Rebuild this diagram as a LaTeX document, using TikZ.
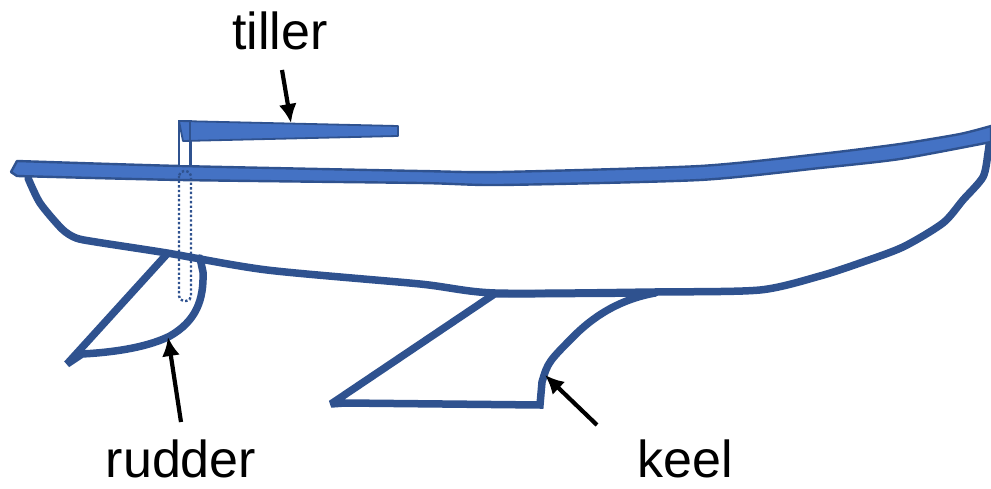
\documentclass[tikz,border=0pt]{standalone}
\usepackage{fontspec}
\setmainfont{Liberation Sans}
\usepackage{tikz}
\usetikzlibrary{arrows.meta,positioning}
\definecolor{hullblue}{RGB}{47, 82, 143}
\definecolor{deckblue}{RGB}{68, 114, 196}
\tikzstyle{hull}  = [draw=hullblue, line width=7.5pt, line join=round, line cap=round]
\tikzstyle{deck}  = [draw=hullblue, fill=deckblue, line width=2.4pt, line join=round]
\tikzstyle{post}  = [draw=hullblue, fill=white, line width=1.8pt]
\tikzstyle{stock} = [draw=hullblue, line width=2.4pt, dash pattern=on 2.4pt off 2.2pt, rounded corners=5pt]
\tikzstyle{label} = [inner sep=0pt, anchor=base, font=\fontsize{52}{60}\selectfont]
\tikzstyle{tedge} = [draw, line width=4.2pt, >={Latex[length=19pt,width=18pt]}, ->]

\begin{document}
\begin{tikzpicture}[x=1pt, y=-1pt]
\useasboundingbox (0,0) rectangle (991,489);

% hull and appendages =============================
\draw[hull] plot[smooth, tension=0.45] coordinates {(28,178) (40,203) (62,229) (76,238) (96,242)
  (167,253) (267,270) (420,284) (495,293) (655,292) (760,290) (820,276) (860,263) (903,247)
  (943,223) (963,200) (983,177) (988,153) (990,137)};
\draw[hull, line join=miter, miter limit=3] (167,254) -- (67,364) -- (82,354)
  .. controls (120,352) and (150,346) .. (170,336)
  .. controls (196,321) and (204,300) .. (203,272) -- (200,258);
\draw[hull, line join=miter, miter limit=3] (493,295) -- (331,404) -- (345,403) -- (540,405)
  -- (542,382) .. controls (548,362) .. (577,333)
  .. controls (597,314) and (622,299) .. (655,293);
\draw[hull] (495,294) -- (655,293);

% deck and tiller
\draw[deck] plot[smooth, tension=0.4] coordinates {(17,161) (180,166) (420,171) (500,172) (700,166) (820,154) (900,144) (960,134) (991,126)}
  -- (991,142)
  -- plot[smooth, tension=0.4] coordinates {(991,142) (900,159) (820,168) (700,180) (500,185) (420,183) (180,180) (17,176)}
  -- (11,172) -- cycle;
\draw[post] (179,121) rectangle (191,166);
\draw[deck, line width=1.8pt] (179,121) -- (398,126) -- (398,136) -- (183,141) -- cycle;
\draw[hullblue, line width=1.8pt] (179,121) -- (179,166) (190,121) -- (190,166);
\draw[stock] (179,171) rectangle (191,301);

% labels
\node[label] (tiller) at (280,50) {tiller};
\node[label] (rudder) at (181,477) {rudder};
\node[label] (keel) at (685,477) {keel};
\coordinate (tillertail) at (282,70);
\coordinate (tillerpt) at (291,123);
\coordinate (ruddertail) at (181,422);
\coordinate (rudderpt) at (168,337);
\coordinate (keeltail) at (597,425);
\coordinate (keelpt) at (545,375);

% edges
\path[tedge] (tillertail) -- (tillerpt);
\path[tedge] (ruddertail) -- (rudderpt);
\path[tedge] (keeltail) -- (keelpt);

\end{tikzpicture}
\end{document}
